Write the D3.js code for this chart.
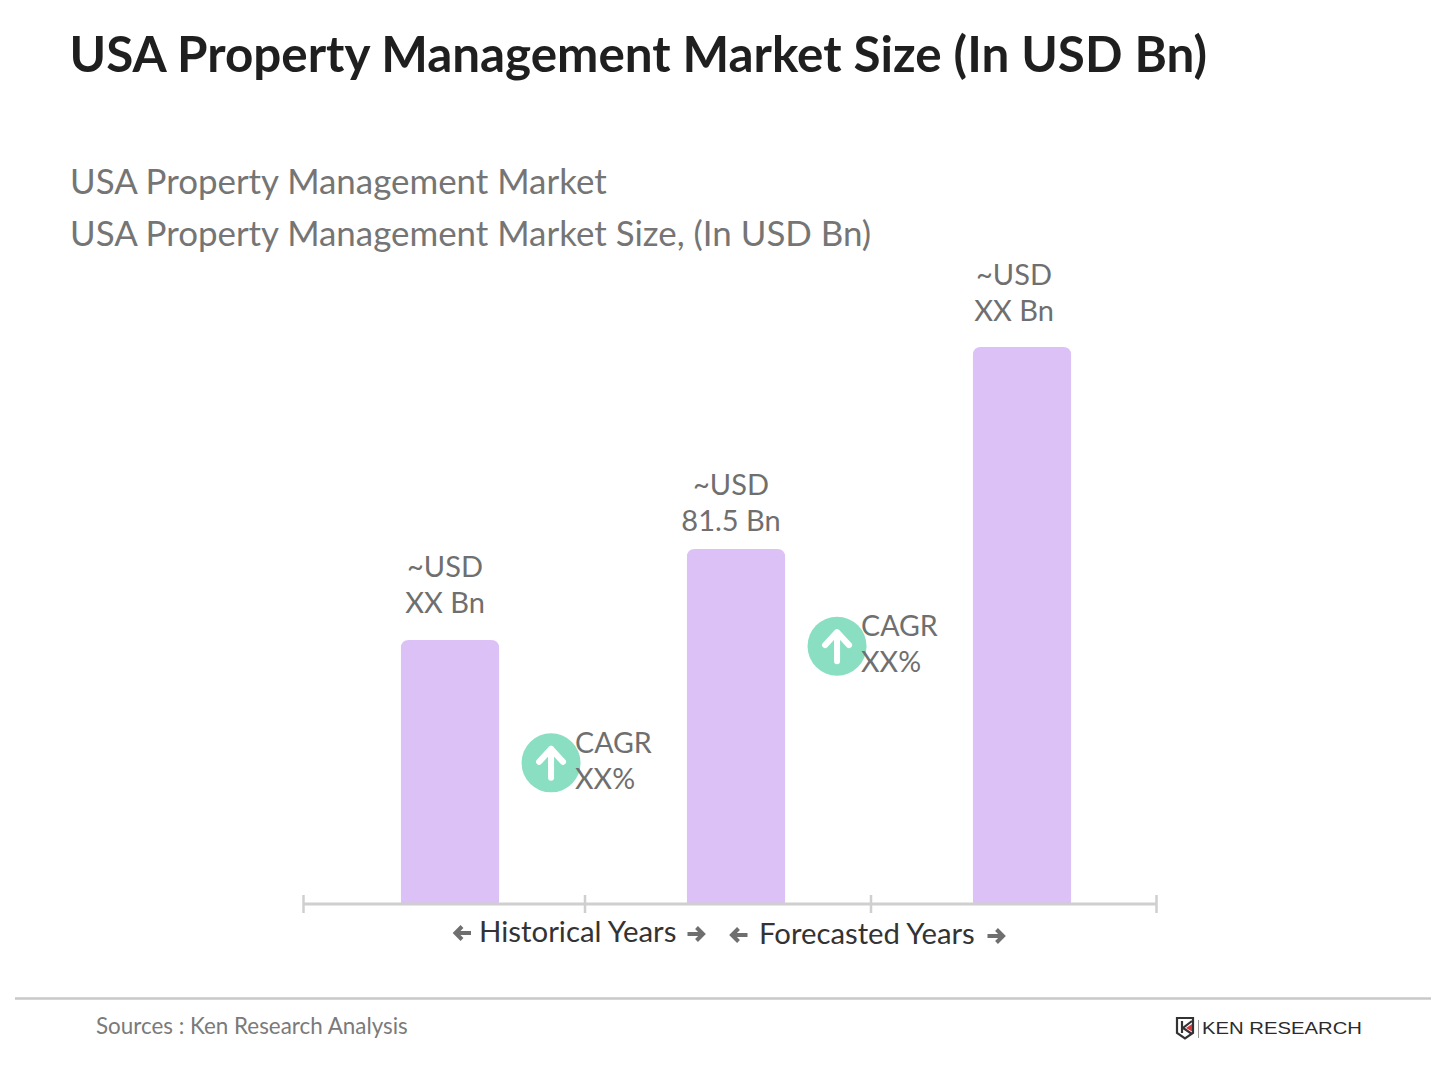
<!DOCTYPE html>
<html>
<head>
<meta charset="utf-8">
<script src="https://cdn.jsdelivr.net/npm/d3@7"></script>
<style>
  html, body { margin: 0; background: #fff; }
  svg { display: block; }
  text { font-family: Lato, sans-serif; }
</style>
</head>
<body>
<svg width="1431" height="1073"></svg>
<script>
// data read off the picture (81.5 is printed, the other two are estimated from bar height)
var categories = ["Historical", "Base", "Forecast"];
var marketSize = [60.6, 81.5, 127.9];
var barLabels = [["~USD", "XX Bn"], ["~USD", "81.5 Bn"], ["~USD", "XX Bn"]];
var cagrLabels = [["CAGR", "XX%"], ["CAGR", "XX%"]];
var cagrLevels = [32.4, 59.2];
var axisTicks = [0, 1, 2, 3];

// the labels are not quite centred on their bars in the original
var labelShift = [-5, -5, -8];
var labelRise = [63, 54, 62];
var cagrTextY = [-9.5, -10.5];

var svg = d3.select("svg");

var baseY = 904;
var x = d3.scaleBand().domain(categories).range([307, 1165]).paddingInner(0.657).paddingOuter(0.3285);
var y = d3.scaleLinear().domain([0, 81.5]).range([baseY, 549]);
var tickX = d3.scaleLinear().domain([0, 1, 2, 3]).range([303.5, 585, 871, 1156.5]);

// headings
svg.append("text").attr("x", 69.5).attr("y", 72)
  .attr("font-size", 50).attr("font-weight", 700).attr("fill", "#1f1f1f")
  .attr("textLength", 1137.5).attr("lengthAdjust", "spacingAndGlyphs")
  .text("USA Property Management Market Size (In USD Bn)");
svg.append("text").attr("x", 70).attr("y", 194)
  .attr("font-size", 34.9).attr("fill", "#757575")
  .text("USA Property Management Market");
svg.append("text").attr("x", 70).attr("y", 246)
  .attr("font-size", 34.9).attr("fill", "#757575")
  .text("USA Property Management Market Size, (In USD Bn)");

// bars, flat at the bottom and rounded at the top
svg.selectAll("path.bar").data(marketSize).enter().append("path")
  .attr("class", "bar")
  .attr("fill", "#dcc1f6")
  .attr("d", function(d, i) {
    var p = d3.path(), x0 = x(categories[i]), x1 = x0 + x.bandwidth(), top = y(d), r = 8;
    p.moveTo(x0, baseY);
    p.lineTo(x0, top + r);
    p.quadraticCurveTo(x0, top, x0 + r, top);
    p.lineTo(x1 - r, top);
    p.quadraticCurveTo(x1, top, x1, top + r);
    p.lineTo(x1, baseY);
    p.closePath();
    return p.toString();
  });

// value labels
var labelRows = svg.selectAll("text.bar-label").data(barLabels).enter().append("text")
  .attr("class", "bar-label")
  .attr("text-anchor", "middle")
  .attr("font-size", 29).attr("fill", "#6f6f6f");
labelRows.each(function(rows, i) {
  var cx = x(categories[i]) + x.bandwidth() / 2 + labelShift[i];
  var top = y(marketSize[i]);
  d3.select(this).selectAll("tspan").data(rows).enter().append("tspan")
    .attr("x", cx)
    .attr("y", function(d, j) { return top - labelRise[i] + j * 36; })
    .text(function(d) { return d; });
});

// axis line and ticks
svg.append("line").attr("x1", tickX(0)).attr("x2", tickX(3))
  .attr("y1", baseY).attr("y2", baseY)
  .attr("stroke", "#cfcfcf").attr("stroke-width", 3);
svg.selectAll("line.tick").data(axisTicks).enter().append("line")
  .attr("class", "tick")
  .attr("x1", tickX).attr("x2", tickX)
  .attr("y1", baseY - 9).attr("y2", baseY + 9)
  .attr("stroke", "#cfcfcf").attr("stroke-width", 2.5);

// CAGR badges sit in the gaps between bars
var badges = svg.selectAll("g.cagr").data(cagrLabels).enter().append("g")
  .attr("class", "cagr")
  .attr("transform", function(d, i) {
    return "translate(" + (x(categories[i]) + x.bandwidth() + 52) + "," + y(cagrLevels[i]) + ")";
  });
badges.append("circle").attr("r", 29.5).attr("fill", "#8adfc3");
badges.append("path")
  .attr("d", "M0,15V-14M-12,-1L0,-14L12,-1")
  .attr("fill", "none").attr("stroke", "#fff").attr("stroke-width", 6)
  .attr("stroke-linecap", "round").attr("stroke-linejoin", "round");
badges.each(function(rows, i) {
  d3.select(this).selectAll("text").data(rows).enter().append("text")
    .attr("x", 24)
    .attr("y", function(d, j) { return cagrTextY[i] + j * 36; })
    .attr("font-size", 28.6).attr("fill", "#6f6f6f")
    .text(function(d) { return d; });
});

// period captions with arrows
function arrow(cx, cy, dir) {
  svg.append("path")
    .attr("transform", "translate(" + cx + "," + cy + ") scale(" + dir + ",1)")
    .attr("d", "M-8.5,0H7M0.5,-6.5L7,0L0.5,6.5")
    .attr("fill", "none").attr("stroke", "#6f6f6f").attr("stroke-width", 4);
}
svg.append("text").attr("x", 479).attr("y", 942)
  .attr("font-size", 29.4).attr("fill", "#333").text("Historical Years");
svg.append("text").attr("x", 759).attr("y", 944)
  .attr("font-size", 29.3).attr("fill", "#333").text("Forecasted Years");
arrow(462.5, 933, -1);
arrow(696, 934, 1);
arrow(739, 935, -1);
arrow(996, 936, 1);

// footer
svg.append("line").attr("x1", 15).attr("x2", 1431)
  .attr("y1", 998.5).attr("y2", 998.5)
  .attr("stroke", "#c8c8c8").attr("stroke-width", 2.5);
svg.append("text").attr("x", 96).attr("y", 1034)
  .attr("font-size", 22.4).attr("fill", "#7a7a7a")
  .text("Sources : Ken Research Analysis");

// logo
var logo = svg.append("g").attr("transform", "translate(1177,1018)");
logo.append("path")
  .attr("d", "M0,0H16V15L8,20.5L0,15Z")
  .attr("fill", "none").attr("stroke", "#333").attr("stroke-width", 2.2);
logo.append("path")
  .attr("d", "M5,3V15M15,3L6,10L15,16")
  .attr("fill", "none").attr("stroke", "#333").attr("stroke-width", 2.2);
logo.append("path").attr("d", "M15,6L9,10L15,13.5Z").attr("fill", "#d8343c");
logo.append("line").attr("x1", 21.5).attr("x2", 21.5).attr("y1", 2).attr("y2", 20)
  .attr("stroke", "#999").attr("stroke-width", 1);
logo.append("text").attr("x", 25).attr("y", 16.3)
  .attr("font-size", 16.5).attr("fill", "#2b2b2b")
  .attr("textLength", 160).attr("lengthAdjust", "spacingAndGlyphs")
  .style("font-family", "'Liberation Sans', sans-serif")
  .text("KEN RESEARCH");
</script>
</body>
</html>
